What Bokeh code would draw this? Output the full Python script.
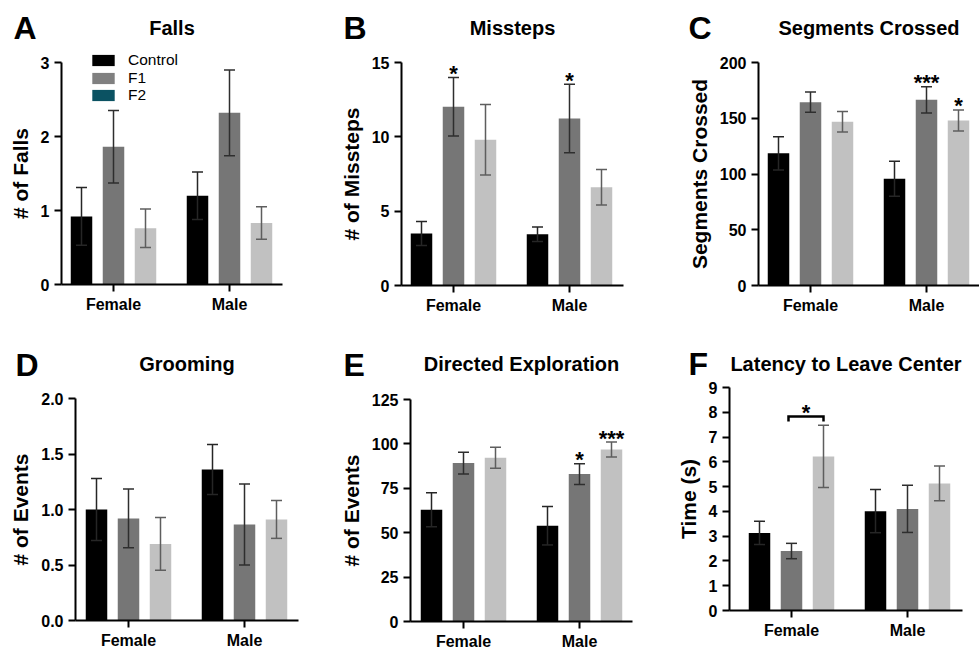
from bokeh.plotting import figure
from bokeh.models import (Range1d, FixedTicker, NumeralTickFormatter, Label, Legend,
                          LegendItem, Whisker, TeeHead, ColumnDataSource)
from bokeh.layouts import row, column
from bokeh.embed import file_html
from bokeh.resources import INLINE

FONT = "Liberation Sans"

groups = ["Female", "Male"]
series = ["Control", "F1", "F2"]

# ---------------- data (mean, SEM) per series, order = groups ----------------
falls_control = [0.92, 1.20]
falls_control_sem = [0.39, 0.32]
falls_f1 = [1.86, 2.32]
falls_f1_sem = [0.49, 0.58]
falls_f2 = [0.76, 0.83]
falls_f2_sem = [0.26, 0.22]

missteps_control = [3.50, 3.45]
missteps_control_sem = [0.81, 0.49]
missteps_f1 = [12.02, 11.23]
missteps_f1_sem = [1.97, 2.30]
missteps_f2 = [9.80, 6.61]
missteps_f2_sem = [2.37, 1.19]

segments_control = [118.5, 95.8]
segments_control_sem = [15.0, 15.7]
segments_f1 = [164.4, 166.5]
segments_f1_sem = [9.1, 11.8]
segments_f2 = [146.8, 148.0]
segments_f2_sem = [9.2, 9.4]

grooming_control = [1.00, 1.36]
grooming_control_sem = [0.28, 0.225]
grooming_f1 = [0.92, 0.865]
grooming_f1_sem = [0.265, 0.365]
grooming_f2 = [0.69, 0.91]
grooming_f2_sem = [0.237, 0.17]

exploration_control = [62.9, 53.9]
exploration_control_sem = [9.6, 10.8]
exploration_f1 = [89.2, 83.0]
exploration_f1_sem = [6.1, 5.8]
exploration_f2 = [92.2, 96.8]
exploration_f2_sem = [5.9, 4.2]

latency_control = [3.13, 4.01]
latency_control_sem = [0.47, 0.87]
latency_f1 = [2.40, 4.10]
latency_f1_sem = [0.31, 0.95]
latency_f2 = [6.22, 5.13]
latency_f2_sem = [1.26, 0.70]

# significance marks: (series index, group index, text)
missteps_sig = [(1, 0, "*"), (1, 1, "*")]
segments_sig = [(1, 1, "***"), (2, 1, "*")]
exploration_sig = [(1, 1, "*"), (2, 1, "***")]
latency_bracket = (1, 2, 0, "*")   # F1 vs F2, Female
latency_bracket_y = 7.83

falls_ticks = [0, 1, 2, 3]
missteps_ticks = [0, 5, 10, 15]
segments_ticks = [0, 50, 100, 150, 200]
grooming_ticks = [0, 0.5, 1.0, 1.5, 2.0]
exploration_ticks = [0, 25, 50, 75, 100, 125]
latency_ticks = [0, 1, 2, 3, 4, 5, 6, 7, 8, 9]

# ---------------- styles ----------------
bar_colors = ["#000000", "#767676", "#c1c1c1"]
legend_colors = ["#000000", "#808080", "#0b5262"]
err_colors = ["#262626", "#2e2e2e", "#5e5e5e"]
PX_GROUP = 116.0      # px between group centres
PX_DODGE = 32.0       # px between bars inside a group
PX_BAR = 21.5         # bar width in px
STAR_OFF = 4
LEGEND_ROW_Y = [60.0, 77.5, 95.0]   # px row centres in panel A


def make_panel(letter, title, ylabel, means, sems, ymax, ticks, W, H,
               ax_x, y_top, y_zero, x_right, fem_x, letter_xy, title_y,
               fmt=None, sig=None, legend=False, bracket=None):
    # every geometry number below is in px inside this panel (top-left origin)
    x0 = 1 - fem_x / PX_GROUP
    ppu = (y_zero - y_top) / ymax
    y0 = -(H - y_zero) / ppu
    p = figure(width=W, height=H, min_border=0,
               x_range=Range1d(x0, x0 + W / PX_GROUP),
               y_range=Range1d(y0, y0 + H / ppu),
               output_backend="svg", toolbar_location=None, title=None,
               outline_line_color=None, background_fill_color="white",
               border_fill_color="white")
    p.min_border_left = p.min_border_right = p.min_border_top = p.min_border_bottom = 0
    p.xgrid.visible = False
    p.ygrid.visible = False

    dodge = PX_DODGE / PX_GROUP
    bw = PX_BAR / PX_GROUP
    xs_all = []
    for k in range(3):
        xs = [g + 1 + (k - 1) * dodge for g in range(len(groups))]
        xs_all.append(xs)
        p.vbar(x=xs, top=means[k], width=bw, fill_color=bar_colors[k], line_color=None)
    for k in range(3):
        xs = xs_all[k]
        up = [m + s for m, s in zip(means[k], sems[k])]
        lo = [m - s for m, s in zip(means[k], sems[k])]
        src = ColumnDataSource(dict(x=xs, upper=up, lower=lo))
        c = err_colors[k]
        w = Whisker(source=src, base="x", upper="upper", lower="lower", dimension="height",
                    line_color=c, line_width=1.5, level="annotation",
                    upper_head=TeeHead(size=11, line_color=c, line_width=1.5),
                    lower_head=TeeHead(size=11, line_color=c, line_width=1.5))
        p.add_layout(w)

    # axes drawn at fixed data locations so the frame spans the whole panel
    ax_data_x = x0 + ax_x / PX_GROUP
    for ax in (p.xaxis[0], p.yaxis[0]):
        ax.axis_line_width = 2
        ax.axis_line_color = "black"
        ax.major_tick_line_width = 2
        ax.major_tick_line_color = "black"
        ax.major_tick_out = 7
        ax.major_tick_in = 0
        ax.minor_tick_line_color = None
        ax.major_label_text_font = FONT
        ax.major_label_text_font_style = "bold"
        ax.major_label_text_font_size = "16px"
        ax.major_label_text_color = "black"
    p.xaxis.fixed_location = 0
    p.xaxis.bounds = (ax_data_x, x0 + x_right / PX_GROUP)
    p.xaxis.ticker = FixedTicker(ticks=[1, 2])
    p.xaxis.major_label_overrides = {1: groups[0], 2: groups[1]}
    p.xaxis.major_label_standoff = 4
    p.yaxis.fixed_location = ax_data_x
    p.yaxis.bounds = (0, ymax)
    p.yaxis.ticker = FixedTicker(ticks=ticks)
    if fmt:
        p.yaxis.formatter = NumeralTickFormatter(format=fmt)
    p.yaxis.major_label_standoff = 5
    p.yaxis.axis_label = ylabel
    p.yaxis.axis_label_text_font = FONT
    p.yaxis.axis_label_text_font_style = "bold"
    p.yaxis.axis_label_text_font_size = "21px"
    p.yaxis.axis_label_text_color = "black"
    p.yaxis.axis_label_standoff = 6

    # title & letter (screen units, frame == whole panel)
    p.add_layout(Label(x=(ax_x + x_right) / 2, y=H - title_y, x_units="screen",
                       y_units="screen", text=title, text_font=FONT,
                       text_font_style="bold", text_font_size="20px",
                       text_align="center", text_baseline="middle", text_color="black"))
    lx, ly = letter_xy
    p.add_layout(Label(x=lx, y=H - ly, x_units="screen", y_units="screen",
                       text=letter, text_font=FONT, text_font_style="bold",
                       text_font_size="32px", text_align="left",
                       text_baseline="middle", text_color="black"))

    if sig:
        for k, g, txt in sig:
            p.add_layout(Label(x=xs_all[k][g], y=means[k][g] + sems[k][g], text=txt,
                               y_offset=STAR_OFF, text_font=FONT, text_font_style="bold",
                               text_font_size="22px", text_align="center",
                               text_baseline="alphabetic", text_color="black"))
    if bracket:
        k1, k2, g, txt = bracket
        xa = xs_all[k1][g] - 3 / PX_GROUP
        xb = xs_all[k2][g]
        yb = latency_bracket_y
        drop = 0.2
        p.line(x=[xa, xa, xb, xb], y=[yb - drop, yb, yb, yb - drop], line_color="black",
               line_width=2.5, line_join="miter")
        p.add_layout(Label(x=(xa + xb) / 2, y=yb, text=txt, y_offset=STAR_OFF,
                           text_font=FONT, text_font_style="bold", text_font_size="22px",
                           text_align="center", text_baseline="alphabetic",
                           text_color="black"))

    if legend:
        for k in range(3):
            r = p.vbar(x=[1], top=[0], width=bw, fill_color=legend_colors[k],
                       line_color=None)
            lg = Legend(items=[LegendItem(label=series[k], renderers=[r])],
                        location=(89, H - LEGEND_ROW_Y[k] - 9), orientation="vertical",
                        padding=0, margin=0, spacing=0, glyph_width=28, glyph_height=14,
                        label_standoff=11, label_height=15, label_text_font=FONT,
                        label_text_font_size="15.5px", label_text_color="black",
                        background_fill_alpha=0, border_line_alpha=0)
            p.add_layout(lg)
    return p


#                 ax_x, y_top, y_zero, x_right, fem_x
pA = make_panel("A", "Falls", "# of Falls",
                [falls_control, falls_f1, falls_f2],
                [falls_control_sem, falls_f1_sem, falls_f2_sem],
                3, falls_ticks, 330, 330, 61, 62, 284, 282, 113, (13, 27), 27, legend=True)
pB = make_panel("B", "Missteps", "# of Missteps",
                [missteps_control, missteps_f1, missteps_f2],
                [missteps_control_sem, missteps_f1_sem, missteps_f2_sem],
                15, missteps_ticks, 330, 330, 71, 62, 285, 293, 123, (13, 27), 27,
                sig=missteps_sig)
pC = make_panel("C", "Segments Crossed", "Segments Crossed",
                [segments_control, segments_f1, segments_f2],
                [segments_control_sem, segments_f1_sem, segments_f2_sem],
                200, segments_ticks, 319, 330, 98, 62, 285, 319, 150, (28, 27), 27,
                sig=segments_sig)
pD = make_panel("D", "Grooming", "# of Events",
                [grooming_control, grooming_f1, grooming_f2],
                [grooming_control_sem, grooming_f1_sem, grooming_f2_sem],
                2, grooming_ticks, 330, 323, 75, 68, 290, 298, 128, (15, 34), 33, fmt="0.0")
pE = make_panel("E", "Directed Exploration", "# of Events",
                [exploration_control, exploration_f1, exploration_f2],
                [exploration_control_sem, exploration_f1_sem, exploration_f2_sem],
                125, exploration_ticks, 330, 323, 80, 69, 291, 302, 133, (13, 34), 33,
                sig=exploration_sig)
pF = make_panel("F", "Latency to Leave Center", "Time (s)",
                [latency_control, latency_f1, latency_f2],
                [latency_control_sem, latency_f1_sem, latency_f2_sem],
                9, latency_ticks, 319, 323, 69, 57, 280, 302, 131, (28, 33), 33,
                bracket=latency_bracket)

layout = column(row(pA, pB, pC, spacing=0), row(pD, pE, pF, spacing=0), spacing=0)
open("out.html", "w").write(file_html(layout, INLINE))
